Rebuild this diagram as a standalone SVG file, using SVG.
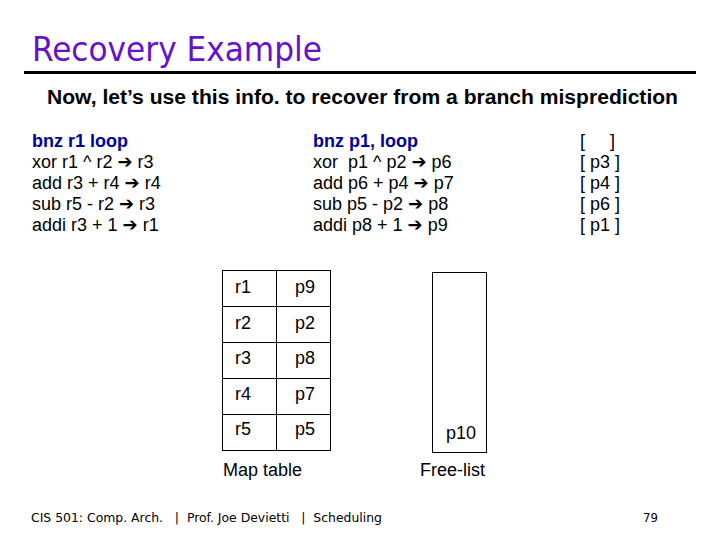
<svg xmlns="http://www.w3.org/2000/svg" width="720" height="540" viewBox="0 0 720 540">
<style>
.t{font-family:"Liberation Sans","DejaVu Sans",sans-serif;font-size:18px;fill:#000}
.b{font-weight:bold;fill:#000099}
.cell{fill:#fff;stroke:#000;stroke-width:1}
.ft{font-family:"DejaVu Sans Condensed","DejaVu Sans",sans-serif;font-size:13px;fill:#000}
</style>
<rect width="720" height="540" fill="#fff"/>
<text x="32" y="61" font-family="DejaVu Sans Condensed,DejaVu Sans,sans-serif" font-size="34" fill="#6611cc" textLength="290" lengthAdjust="spacingAndGlyphs">Recovery Example</text>
<line x1="24" y1="72.5" x2="696" y2="72.5" stroke="#000" stroke-width="3"/>
<text x="47" y="104" font-family="Liberation Sans Narrow,Liberation Sans,sans-serif" font-weight="bold" font-size="20" textLength="631" lengthAdjust="spacingAndGlyphs">Now, let’s use this info. to recover from a branch misprediction</text>
<g id="code-arch">
<text class="t b" x="32" y="147">bnz r1 loop</text>
<text class="t" x="32" y="168">xor r1 ^ r2 ➔ r3</text>
<text class="t" x="32" y="189">add r3 + r4 ➔ r4</text>
<text class="t" x="32" y="210">sub r5 - r2 ➔ r3</text>
<text class="t" x="32" y="231">addi r3 + 1 ➔ r1</text>
</g>
<g id="code-phys">
<text class="t b" x="313" y="147">bnz p1, loop</text>
<text class="t" x="313" y="168" xml:space="preserve">xor  p1 ^ p2 ➔ p6</text>
<text class="t" x="313" y="189">add p6 + p4 ➔ p7</text>
<text class="t" x="313" y="210">sub p5 - p2 ➔ p8</text>
<text class="t" x="313" y="231">addi p8 + 1 ➔ p9</text>
</g>
<g id="freed">
<text class="t" x="580" y="147" xml:space="preserve">[     ]</text>
<text class="t" x="580" y="168">[ p3 ]</text>
<text class="t" x="580" y="189">[ p4 ]</text>
<text class="t" x="580" y="210">[ p6 ]</text>
<text class="t" x="580" y="231">[ p1 ]</text>
</g>
<g id="map-table">
<rect class="cell" x="222.5" y="270.5" width="54" height="36"/><rect class="cell" x="276.5" y="270.5" width="54" height="36"/>
<rect class="cell" x="222.5" y="306.5" width="54" height="36"/><rect class="cell" x="276.5" y="306.5" width="54" height="36"/>
<rect class="cell" x="222.5" y="342.5" width="54" height="36"/><rect class="cell" x="276.5" y="342.5" width="54" height="36"/>
<rect class="cell" x="222.5" y="378.5" width="54" height="36"/><rect class="cell" x="276.5" y="378.5" width="54" height="36"/>
<rect class="cell" x="222.5" y="414.5" width="54" height="36"/><rect class="cell" x="276.5" y="414.5" width="54" height="36"/>
<text class="t" x="235" y="293">r1</text><text class="t" x="295" y="293">p9</text>
<text class="t" x="235" y="329">r2</text><text class="t" x="295" y="329">p2</text>
<text class="t" x="235" y="364">r3</text><text class="t" x="295" y="364">p8</text>
<text class="t" x="235" y="400">r4</text><text class="t" x="295" y="400">p7</text>
<text class="t" x="235" y="435">r5</text><text class="t" x="295" y="435">p5</text>
<text class="t" x="223" y="476">Map table</text>
</g>
<g id="free-list">
<rect class="cell" x="432.5" y="272.5" width="54" height="180"/>
<text class="t" x="446" y="439">p10</text>
<text class="t" x="420" y="476">Free-list</text>
</g>
<g id="connectors"/>
<text class="ft" x="31" y="522" xml:space="preserve" textLength="351" lengthAdjust="spacingAndGlyphs">CIS 501: Comp. Arch.   |  Prof. Joe Devietti   |  Scheduling</text>
<text class="ft" x="643" y="522">79</text>
</svg>
